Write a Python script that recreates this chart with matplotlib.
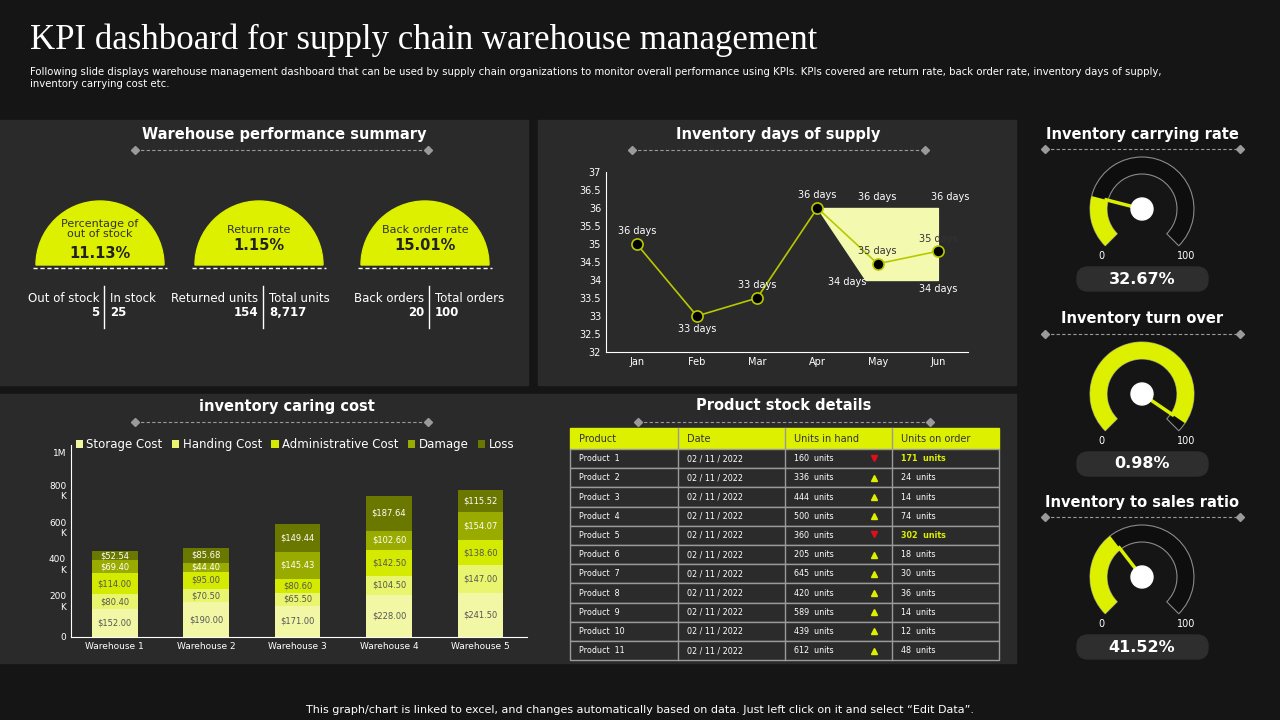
"""KPI dashboard for supply chain warehouse management."""

import math

import matplotlib

matplotlib.use("Agg")
import matplotlib.pyplot as plt
from matplotlib.patches import Rectangle, Wedge, Circle, FancyBboxPatch

YEL = "#dcf000"
BG = "#151515"
PANEL = "#2a2a2a"

# ---- data ----
summary_titles = ["Percentage of\nout of stock", "Return rate", "Back order rate"]
summary_values = ["11.13%", "1.15%", "15.01%"]
summary_left_labels = ["Out of stock", "Returned units", "Back orders"]
summary_left_values = ["5", "154", "20"]
summary_right_labels = ["In stock", "Total units", "Total orders"]
summary_right_values = ["25", "8,717", "100"]

months = ["Jan", "Feb", "Mar", "Apr", "May", "Jun"]
days_supply = [35, 33, 33.5, 36, 34.45, 34.8]
days_labels = ["36 days", "33 days", "33 days", "36 days", "35 days", "35 days"]
# highlighted band drawn in the reference (Apr..Jun)
band_x = [3, 3.8, 5]
band_top = [36, 36, 36]
band_bottom = [36, 34, 34]

warehouses = ["Warehouse 1", "Warehouse 2", "Warehouse 3", "Warehouse 4", "Warehouse 5"]
cost_series = ["Storage Cost", "Handing Cost", "Administrative Cost", "Damage", "Loss"]
storage_cost = [152.00, 190.00, 171.00, 228.00, 241.50]
handling_cost = [80.40, 70.50, 65.50, 104.50, 147.00]
admin_cost = [114.00, 95.00, 80.60, 142.50, 138.60]
damage_cost = [69.40, 44.40, 145.43, 102.60, 154.07]
loss_cost = [52.54, 85.68, 149.44, 187.64, 115.52]
cost_colors = ["#f2f7a6", "#e9f56e", "#d4ea00", "#9aab00", "#6b7800"]

products = ["Product  %d" % i for i in range(1, 12)]
dates = ["02 / 11 / 2022"] * 11
units_in_hand = [160, 336, 444, 500, 360, 205, 645, 420, 589, 439, 612]
units_on_order = [171, 24, 14, 74, 302, 18, 30, 36, 14, 12, 48]
trend_up = [False, True, True, True, False, True, True, True, True, True, True]

gauge_titles = ["Inventory carrying rate", "Inventory turn over", "Inventory to sales ratio"]
gauge_values = ["32.67%", "0.98%", "41.52%"]
gauge_fill = [0.22, 0.96, 0.36]  # filled share of the dial as drawn

fig = plt.figure(figsize=(12.8, 7.2), dpi=100, facecolor=BG)
ov = fig.add_axes([0, 0, 1, 1])
ov.set_xlim(0, 1280)
ov.set_ylim(720, 0)
ov.axis("off")
ov.set_zorder(0)


def px_axes(left, top, right, bottom):
    return fig.add_axes([left / 1280, 1 - bottom / 720, (right - left) / 1280,
                         (bottom - top) / 720])


def divider(x0, x1, y):
    ov.plot([x0, x1], [y, y], color="#9a9a9a", lw=0.8, ls=(0, (3, 2)))
    ov.plot([x0, x1], [y, y], "D", color="#9a9a9a", ms=4)


# panels
for (x0, y0, x1, y1) in [(0, 120, 528, 385), (538, 120, 1016, 385), (0, 394, 1016, 663)]:
    ov.add_patch(Rectangle((x0, y0), x1 - x0, y1 - y0, color=PANEL, zorder=0))

ov.text(30, 40, "KPI dashboard for supply chain warehouse management", color="white",
        fontsize=25, family="Liberation Serif", va="center")
ov.text(30, 78, "Following slide displays warehouse management dashboard that can be used by supply "
        "chain organizations to monitor overall performance using KPIs. KPIs covered are return "
        "rate, back order rate, inventory days of supply,\ninventory carrying cost etc.",
        color="white", fontsize=7.3, va="center")
ov.text(640, 710, "This graph/chart is linked to excel, and changes automatically based on data. "
        "Just left click on it and select \u201cEdit Data\u201d.", color="white", fontsize=8,
        ha="center", va="center")

for title, cx, y, x0, x1 in [("Warehouse performance summary", 284, 134, 135, 428),
                             ("Inventory days of supply", 778, 134, 632, 925),
                             ("inventory caring cost", 287, 406, 135, 428),
                             ("Product stock details", 784, 406, 638, 930)]:
    ov.text(cx, y, title, color="white", fontsize=10.5, weight="bold", ha="center", va="center")
    divider(x0, x1, y + 16)

# ---- summary semicircles ----
centers = [100, 259, 425]
for i, cx in enumerate(centers):
    ov.add_patch(Wedge((cx, 265), 64, 180, 360, color=YEL, zorder=2))
    ov.plot([cx - 67, cx + 67], [268, 268], color="white", lw=1, ls=(0, (3, 2)))
    ov.text(cx, 229 if i == 0 else 230, summary_titles[i], color="#333333", fontsize=8,
            ha="center", va="center", linespacing=0.95)
    ov.text(cx, 253 if i == 0 else 246, summary_values[i], color="#222222", fontsize=10.5,
            weight="bold", ha="center", va="center")
    ov.plot([cx + 4, cx + 4], [286, 328], color="white", lw=1)
    ov.text(cx - 1, 299, summary_left_labels[i], color="white", fontsize=8.5, ha="right", va="center")
    ov.text(cx - 1, 313, summary_left_values[i], color="white", fontsize=8.5, weight="bold",
            ha="right", va="center")
    ov.text(cx + 10, 299, summary_right_labels[i], color="white", fontsize=8.5, va="center")
    ov.text(cx + 10, 313, summary_right_values[i], color="white", fontsize=8.5, weight="bold",
            va="center")

# ---- line chart ----
ax = px_axes(606, 172, 968, 352)
ax.set_facecolor("none")
x = list(range(len(months)))
ax.fill_between(band_x, band_bottom, band_top, color="#f4f9b0", zorder=1)
ax.plot(x, days_supply, color="#b8c800", lw=1.2, marker="o", ms=8, mfc="black", mec="#b8c800",
        mew=1.2, zorder=3)
offsets = [9, -12, 7, 9, 15, 12]
for i, (v, lab) in enumerate(zip(days_supply, days_labels)):
    dy = 0.35 if offsets[i] > 0 else -0.35
    col = "#333333" if i >= 4 else "white"
    ax.text(i, v + dy, lab, color=col, fontsize=7, ha="center", va="center", zorder=4)
for xx, yy, lab in [(4, 36.3, "36 days"), (5.2, 36.3, "36 days"), (3.5, 33.95, "34 days"),
                    (5, 33.75, "34 days")]:
    ax.text(xx, yy, lab, color="white", fontsize=7, ha="center", va="center")
ax.set_xlim(-0.51, 5.5)
ax.set_ylim(32, 37)
ax.set_yticks([32 + 0.5 * k for k in range(11)])
ax.set_yticklabels(["%g" % (32 + 0.5 * k) for k in range(11)])
ax.set_xticks(x)
ax.set_xticklabels(months)
ax.tick_params(colors="white", labelsize=7, length=0)
for s in ["top", "right"]:
    ax.spines[s].set_visible(False)
ax.spines["left"].set_color("white")
ax.spines["bottom"].set_color("white")

# ---- stacked bars ----
bx = px_axes(71, 445, 527, 637)
bx.set_facecolor("none")
series = [storage_cost, handling_cost, admin_cost, damage_cost, loss_cost]
bottoms = [0] * len(warehouses)
for name, vals, col in zip(cost_series, series, cost_colors):
    bx.bar(range(len(warehouses)), vals, 0.5, bottom=bottoms, color=col, label=name)
    for i, v in enumerate(vals):
        bx.text(i, bottoms[i] + v / 2, "$%.2f" % v, ha="center", va="center", fontsize=6,
                color="#555555" if col in cost_colors[:3] else "white")
    bottoms = [b + v for b, v in zip(bottoms, vals)]
bx.set_xlim(-0.48, 4.51)
bx.set_ylim(0, 1043)
bx.set_yticks([0, 200, 400, 600, 800, 1000])
bx.set_yticklabels(["0", "200\nK", "400\nK", "600\nK", "800\nK", "1M"])
bx.set_xticks(range(len(warehouses)))
bx.set_xticklabels(warehouses)
bx.tick_params(colors="white", labelsize=6.5, length=0)
for s in ["top", "right"]:
    bx.spines[s].set_visible(False)
bx.spines["left"].set_color("white")
bx.spines["bottom"].set_color("white")
bx.legend(loc="upper left", bbox_to_anchor=(0.0, 1.06), ncol=5, frameon=False, fontsize=8.5,
          labelcolor="white", handlelength=0.6, handleheight=0.6, columnspacing=0.8,
          handletextpad=0.3, borderaxespad=0)

# ---- table ----
cols_x = [570, 678, 785, 892, 999]
header = ["Product", "Date", "Units in hand", "Units on order"]
ov.add_patch(Rectangle((570, 428), 429, 21, color=YEL, zorder=2))
for j, h in enumerate(header):
    ov.text(cols_x[j] + 9, 438.5, h, fontsize=7, color="#333333", va="center", zorder=3)
row_h = 19.2
for i in range(len(products)):
    y0 = 449 + i * row_h
    ov.add_patch(Rectangle((570, y0), 429, row_h, facecolor="#2b2b2b", edgecolor="#9a9a9a",
                           lw=1, zorder=2))
    yc = y0 + row_h / 2
    ov.text(579, yc, products[i], fontsize=5.8, color="white", va="center", zorder=3)
    ov.text(687, yc, dates[i], fontsize=5.8, color="white", va="center", zorder=3)
    ov.text(794, yc, "%d  units" % units_in_hand[i], fontsize=5.8, color="white", va="center",
            zorder=3)
    if trend_up[i]:
        ov.plot(874, yc, marker="^", color=YEL, ms=5, zorder=3)
        ov.text(901, yc, "%d  units" % units_on_order[i], fontsize=5.8, color="white",
                va="center", zorder=3)
    else:
        ov.plot(874, yc - 1, marker="v", color="#e0101a", ms=5, zorder=3)
        ov.text(901, yc, "%d  units" % units_on_order[i], fontsize=5.8, color=YEL,
                weight="bold", va="center", zorder=3)
for xc in cols_x[1:-1]:
    ov.plot([xc, xc], [428, 449 + 11 * row_h], color="#9a9a9a", lw=1, zorder=3)

# ---- gauges ----
gauge_cy = [209, 394, 577]
for k, cy in enumerate(gauge_cy):
    ov.text(1142, cy - 75, gauge_titles[k], color="white", fontsize=10.5, weight="bold",
            ha="center", va="center")
    divider(1045, 1240, cy - 60)
    gx = px_axes(1077, cy - 65, 1207, cy + 65)
    gx.set_xlim(-65, 65)
    gx.set_ylim(-65, 65)
    gx.set_aspect("equal")
    gx.axis("off")
    gx.add_patch(Wedge((0, 0), 52, -45, 225, width=17, facecolor="#0e0e0e", edgecolor="#8a8a8a",
                       lw=0.8))
    end = 225 - gauge_fill[k] * 270
    gx.add_patch(Wedge((0, 0), 52, end, 225, width=17, facecolor=YEL, edgecolor="none"))
    a = math.radians(end)
    gx.plot([0, 37 * math.cos(a)], [0, 37 * math.sin(a)], color=YEL, lw=2.5)
    gx.add_patch(Circle((0, 0), 11, color="white", zorder=5))
    ov.text(1101, cy + 47, "0", color="white", fontsize=7, ha="center", va="center")
    ov.text(1186, cy + 47, "100", color="white", fontsize=7, ha="center", va="center")
    ov.add_patch(FancyBboxPatch((1077, cy + 58), 131, 24, boxstyle="round,pad=0,rounding_size=11",
                                color="#2e2e2e"))
    ov.text(1142, cy + 70, gauge_values[k], color="white", fontsize=11.5, weight="bold",
            ha="center", va="center")

fig.savefig("out.png", dpi=100, facecolor=BG)
